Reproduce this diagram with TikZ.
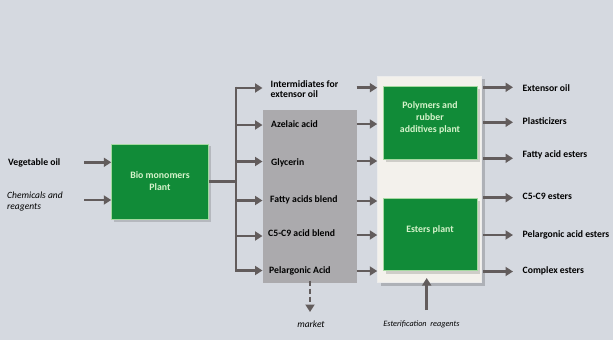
\documentclass[tikz,border=0pt]{standalone}
\usepackage{fontspec}
\setmainfont{Carlito}
\usetikzlibrary{arrows.meta}
\definecolor{bg}{HTML}{D5D9E0}
\definecolor{arr}{HTML}{625C5C}
\definecolor{grn}{HTML}{118B38}
\definecolor{grnb}{HTML}{A4D9A0}
\definecolor{grntxt}{HTML}{D6F3CB}
\definecolor{gbox}{HTML}{ABAAAD}
\definecolor{wbox}{HTML}{F3F1EC}
\begin{document}
\begin{tikzpicture}[x=1pt,y=-1pt,
  flow/.style={draw=arr, line width=2.6pt, -{Triangle[length=7.5pt,width=9pt]}},
  wire/.style={draw=arr, line width=2.6pt},
  dflow/.style={draw=arr, line width=2.6pt, dash pattern=on 5pt off 3pt, -{Triangle[length=7.5pt,width=9pt]}},
  lbl/.style={anchor=west, font=\bfseries\fontsize{9.7}{10.5}\selectfont, text=black, inner sep=0pt, align=left},
  ital/.style={font=\itshape\fontsize{9.5}{11.5}\selectfont, inner sep=0pt, text=black, align=left},
  plantbox/.style={draw=grnb, line width=1pt, fill=grn, inner sep=0pt},
  planttxt/.style={text=grntxt, font=\bfseries\fontsize{9.8}{12}\selectfont, align=center, inner sep=0pt}]

\fill[bg] (0,0) rectangle (613,340);
\useasboundingbox (0,0) rectangle (613,340);

% left inputs
\node[lbl] (veg) at (8,163) {Vegetable oil};
\node[ital, anchor=west] (chem) at (7,201.5) {Chemicals and\\reagents};

% biomonomers plant
\fill[black, opacity=0.15] (113.5,146) rectangle (210.5,221.5);
\node[plantbox, minimum width=96.5pt, minimum height=75pt] (bio) at (160,181.6) {};
\node[planttxt] at (160,181.5) {Bio monomers\\Plant};

\coordinate (vin) at (84,162.3);
\coordinate (cin) at (84,200);
\draw[flow] (vin) -- (bio.west |- vin);
\draw[flow] (cin) -- (bio.west |- cin);

% gray intermediates box
\node[fill=gbox, minimum width=94pt, minimum height=173.3pt, inner sep=0pt] (gray) at (309.7,196.7) {};

% white box with shadow
\fill[black, opacity=0.18] (380.5,78.5) rectangle (485,286);
\node[fill=wbox, draw=white!85!gray, line width=0.5pt, minimum width=104pt, minimum height=206pt, inner sep=0pt] (wbox) at (429.5,78.8+100) {};
% plants inside
\fill[black, opacity=0.15] (385.5,89) rectangle (479.5,161.5);
\node[plantbox, minimum width=94pt, minimum height=72.3pt] (poly) at (430,122.9) {};
\node[planttxt] at (430,117.5) {Polymers and\\rubber\\additives plant};
\fill[black, opacity=0.15] (385.5,200.5) rectangle (479.5,273.5);
\node[plantbox, minimum width=94pt, minimum height=72.3pt] (est) at (430,234.7) {};
\node[planttxt] at (430,229.7) {Esters plant};

% bus
\coordinate (b1) at (236,88);
\coordinate (b2) at (236,125);
\coordinate (b3) at (236,161.5);
\coordinate (b4) at (236,200.5);
\coordinate (b5) at (236,236);
\coordinate (b6) at (236,270.5);
\draw[wire] (bio.east |- 0,181.6) -- (236,181.6);
\draw[wire] ([yshift=1.3pt]b1) -- ([yshift=-1.3pt]b6);
\foreach \i in {1,...,6} {\draw[flow] (b\i) -- (gray.west |- b\i);}

% intermediate labels
\node[lbl] (i1) at (270.5,89) {Intermidiates for\\extensor oil};
\node[lbl] (i2) at (271,124) {Azelaic acid};
\node[lbl] (i3) at (271,162.5) {Glycerin};
\node[lbl] (i4) at (270,200) {Fatty acids blend};
\node[lbl] (i5) at (268,233) {C5-C9 acid blend};
\node[lbl] (i6) at (269,271) {Pelargonic Acid};

% arrows gray -> white box
\foreach \i/\yy in {1/87.7,2/124,3/161,4/201,5/235,6/271} {
  \coordinate (g\i) at (356.7,\yy);
  \draw[flow] (g\i) -- (wbox.west |- g\i);
}

% outputs
\foreach \i/\yy in {1/87.3,2/122.3,3/158.3,4/197.7,5/235,6/271.5} {
  \coordinate (o\i) at (483,\yy);
  \coordinate (oe\i) at (513,\yy);
  \draw[flow] (o\i) -- (oe\i);
}
\node[lbl] (p1) at (522.5,88) {Extensor oil};
\node[lbl] (p2) at (522.5,121.3) {Plasticizers};
\node[lbl] (p3) at (522.5,154.5) {Fatty acid esters};
\node[lbl] (p4) at (522.5,196.5) {C5-C9 esters};
\node[lbl] (p5) at (522.5,234.5) {Pelargonic acid esters};
\node[lbl] (p6) at (522.5,270.8) {Complex esters};

% market
\node[ital] (market) at (311,324.5) {market};
\coordinate (mk) at (310,312);
\draw[dflow] (gray.south -| mk) ++(0,3pt) -- (mk);

% esterification reagents
\node[ital, font=\itshape\fontsize{8.2}{9}\selectfont] (esr) at (421.5,324.5) {Esterification\ \ reagents};
\coordinate (er) at (426.7,310);
\draw[flow] (er) -- ([yshift=4pt]wbox.south -| er);
\end{tikzpicture}
\end{document}
